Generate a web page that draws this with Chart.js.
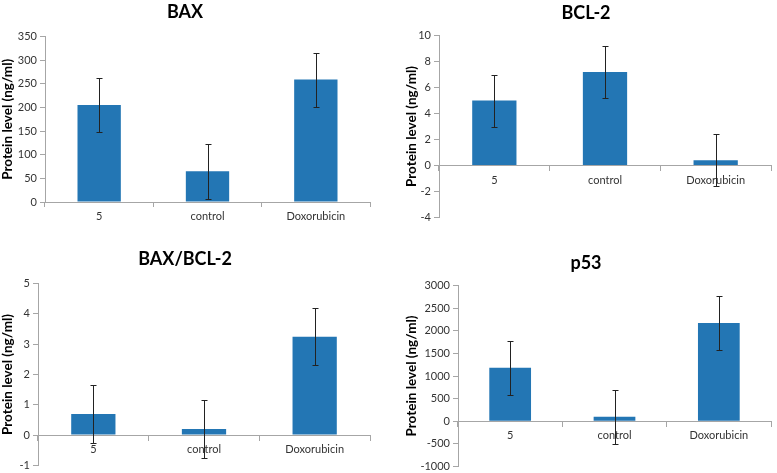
<!DOCTYPE html>
<html>
<head>
<meta charset="utf-8">
<script src="https://cdn.jsdelivr.net/npm/chart.js@4"></script>
<style>
  body { margin: 0; background: #fff; }
  #wrap { position: relative; width: 777px; height: 473px; overflow: hidden; }
  .panel { position: absolute; }
</style>
</head>
<body>
<div id="wrap">
  <div class="panel" style="left:0;top:0;width:372px;height:235px"><canvas id="bax"></canvas></div>
  <div class="panel" style="left:401px;top:0;width:372px;height:227px"><canvas id="bcl2"></canvas></div>
  <div class="panel" style="left:0;top:235px;width:372px;height:240px"><canvas id="ratio"></canvas></div>
  <div class="panel" style="left:401px;top:235px;width:372px;height:241px"><canvas id="p53"></canvas></div>
</div>
<script>
// Groups on the x axis
const groups = ['5', 'control', 'Doxorubicin'];

// Protein levels and error bars
const baxValues = [205, 65, 259];
const baxErrors = [57, 58, 57];
const bcl2Values = [5.0, 7.2, 0.4];
const bcl2Errors = [2.0, 2.0, 2.0];
const ratioValues = [0.7, 0.2, 3.25];
const ratioErrors = [0.95, 0.95, 0.95];
const p53Values = [1180, 100, 2170];
const p53Errors = [600, 600, 590];

const barColor = '#2376b4';
const axisColor = '#a6a6a6';
const fontFamily = 'Lato, "Open Sans", sans-serif';

// simple error bar plugin, uses the scales to place everything
const errorBars = {
  id: 'errorBars',
  afterDatasetsDraw(chart) {
    const ctx = chart.ctx;
    const yScale = chart.scales.y;
    const errs = chart.options.plugins.errorBars.errors;
    const meta = chart.getDatasetMeta(0);
    ctx.save();
    ctx.strokeStyle = '#222';
    ctx.lineWidth = 1;
    meta.data.forEach((bar, i) => {
      const v = chart.data.datasets[0].data[i];
      const x = Math.round(bar.x) + 0.5;
      const yTop = Math.round(yScale.getPixelForValue(v + errs[i])) + 0.5;
      const yBot = Math.round(yScale.getPixelForValue(v - errs[i])) + 0.5;
      ctx.beginPath();
      ctx.moveTo(x, yTop); ctx.lineTo(x, yBot);
      ctx.moveTo(x - 3, yTop); ctx.lineTo(x + 3, yTop);
      ctx.moveTo(x - 3, yBot); ctx.lineTo(x + 3, yBot);
      ctx.stroke();
    });
    ctx.restore();
  }
};

function makeChart(id, title, values, errors, yMin, yMax, step, opt) {
  new Chart(document.getElementById(id), {
    type: 'bar',
    data: {
      labels: groups,
      datasets: [{
        data: values,
        backgroundColor: barColor,
        categoryPercentage: 1,
        barPercentage: 0.4
      }]
    },
    plugins: [errorBars],
    options: {
      responsive: true,
      maintainAspectRatio: false,
      animation: false,
      layout: { padding: { top: opt.padTop, right: 2, bottom: 0, left: 0 } },
      plugins: {
        legend: { display: false },
        tooltip: { enabled: false },
        title: {
          display: true,
          text: title,
          color: '#000',
          font: { family: fontFamily, size: 18, weight: 'bold', lineHeight: 1.2 },
          padding: { top: 0, bottom: opt.titleGap }
        },
        errorBars: { errors: errors }
      },
      scales: {
        x: {
          position: yMin < 0 ? { y: 0 } : 'bottom',
          afterFit: s => { s.height = opt.xHeight; },
          border: { display: true, color: axisColor },
          grid: { display: true, drawOnChartArea: false, drawTicks: true, tickLength: 5, color: axisColor, offset: true },
          ticks: { color: '#333', padding: 3, font: { family: fontFamily, size: 11 } }
        },
        y: {
          min: yMin,
          max: yMax,
          afterFit: s => { s.width = opt.yWidth; },
          border: { display: true, color: axisColor },
          grid: { display: true, drawOnChartArea: false, drawTicks: true, tickLength: 5, color: axisColor },
          ticks: {
            stepSize: step,
            color: '#333',
            padding: 3,
            font: { family: fontFamily, size: 11 },
            callback: v => String(v)
          },
          title: {
            display: true,
            text: 'Protein level (ng/ml)',
            color: '#000',
            font: { family: fontFamily, size: 13.5, weight: 'bold', lineHeight: 1.1 },
            padding: { top: opt.titlePad, bottom: 0 }
          }
        }
      }
    }
  });
}

makeChart('bax', 'BAX', baxValues, baxErrors, 0, 350, 50,
  { padTop: 1, titleGap: 14, xHeight: 33, yWidth: 45, titlePad: 0 });
makeChart('bcl2', 'BCL-2', bcl2Values, bcl2Errors, -4, 10, 2,
  { padTop: 2, titleGap: 12, xHeight: 18, yWidth: 38, titlePad: 3 });
makeChart('ratio', 'BAX/BCL-2', ratioValues, ratioErrors, -1, 5, 1,
  { padTop: 13, titleGap: 14, xHeight: 8, yWidth: 38, titlePad: 0 });
makeChart('p53', 'p53', p53Values, p53Errors, -1000, 3000, 500,
  { padTop: 17, titleGap: 12, xHeight: 7, yWidth: 57, titlePad: 3 });
</script>
</body>
</html>
